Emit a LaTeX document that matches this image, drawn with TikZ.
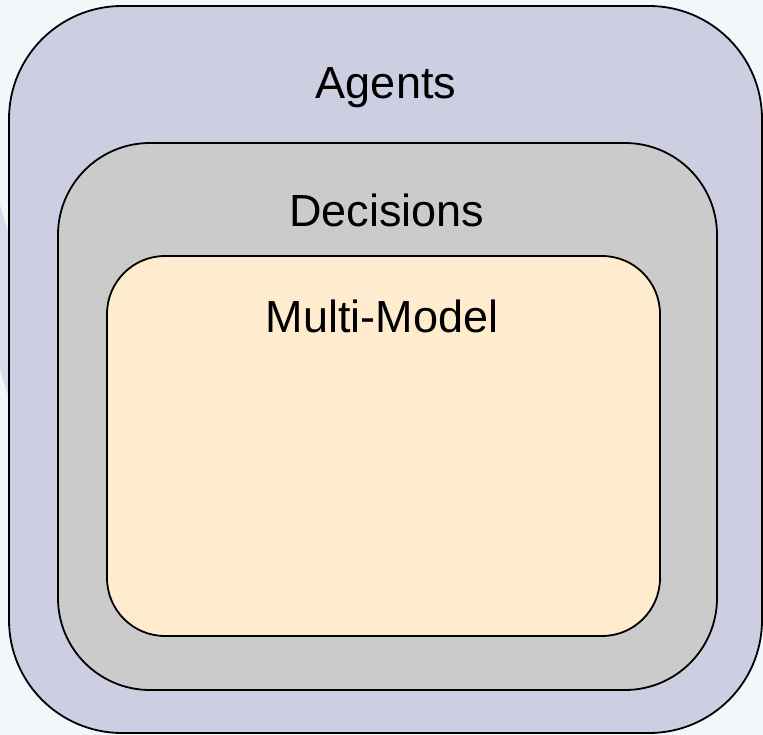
\documentclass[tikz,border=0pt]{standalone}
\usepackage{fontspec}
\setmainfont{Liberation Sans}
\definecolor{pagebg}{HTML}{F3F7FA}
\definecolor{agentfill}{HTML}{CDCEE1}
\definecolor{decfill}{HTML}{CBCBCB}
\definecolor{modelfill}{HTML}{FFEBCD}
\definecolor{glint}{HTML}{DADBE9}
\tikzset{
  layer/.style={draw=black, line width=1.8pt},
  layertitle/.style={font=\fontsize{45}{50}\selectfont, anchor=base, inner sep=0pt}
}
\begin{document}
\begin{tikzpicture}[x=1pt, y=-1pt]
  % page area
  \fill[pagebg] (0,0) rectangle (763,735);
  \useasboundingbox (0,0) rectangle (763,735);
  % faint highlight left of the outer frame
  \fill[glint] (0,205) -- (9,235) -- (9,398) -- (0,370) -- cycle;
  % nested rounded frames
  \path[layer, fill=agentfill, rounded corners=113pt] (9,6) rectangle (762,733);
  \path[layer, fill=decfill, rounded corners=92pt] (58,143) rectangle (717,690);
  \path[layer, fill=modelfill, rounded corners=58pt] (107,256) rectangle (660,636);
  % titles
  \node[layertitle] (agents) at (386,99) {Agents};
  \node[layertitle] (decisions) at (387,227) {Decisions};
  \node[layertitle] (multimodel) at (382,332) {Multi-Model};
\end{tikzpicture}
\end{document}
